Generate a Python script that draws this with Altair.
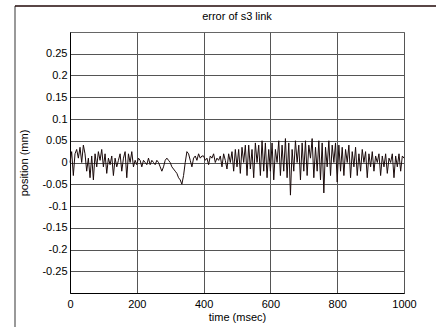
import altair as alt
import pandas as pd

title_text = "error of s3 link"
x_label = "time (msec)"
y_label = "position (mm)"

time_step = 5
error_mm = [
    0.0, 0.025, -0.03, 0.02, 0.03, 0.01, 0.035, 0.0, 0.04, 0.02,
    -0.02, 0.01, -0.035, 0.015, -0.04, 0.02, -0.01, 0.025, 0.005, 0.03,
    -0.01, 0.02, -0.025, 0.01, -0.005, 0.015, -0.03, 0.01, -0.01, 0.005,
    0.02, -0.02, 0.01, 0.025, -0.035, 0.02, 0.0, 0.025, -0.01, 0.005,
    -0.005, 0.01, 0.005, -0.01, 0.005, 0.0, -0.005, 0.01, -0.005, 0.005,
    0.0, -0.005, 0.005, 0.0, -0.01, -0.02, -0.01, 0.005, 0.01, 0.005,
    0.0, -0.01, -0.015, -0.02, -0.025, -0.035, -0.04, -0.05, -0.03, 0.0,
    0.025, 0.02, 0.005, -0.01, 0.01, 0.015, 0.005, 0.02, 0.01, 0.015,
    0.015, 0.005, 0.01, -0.005, 0.015, 0.01, 0.02, 0.0, 0.01, 0.005,
    0.015, -0.01, 0.02, 0.005, -0.015, 0.02, 0.0, 0.025, -0.02, 0.03,
    -0.01, 0.03, -0.025, 0.035, 0.0, 0.04, -0.03, 0.04, -0.015, 0.03,
    -0.035, 0.045, 0.0, 0.04, -0.03, 0.05, -0.02, 0.045, -0.035, 0.03,
    -0.02, 0.045, -0.04, 0.03, 0.0, 0.05, -0.03, 0.04, -0.02, 0.055,
    -0.035, 0.045, -0.075, 0.03, -0.02, 0.05, 0.0, 0.04, -0.04, 0.045,
    -0.02, 0.05, -0.03, 0.04, 0.01, 0.055, -0.035, 0.035, -0.02, 0.05,
    -0.04, 0.045, -0.07, 0.035, -0.01, 0.05, -0.03, 0.04, 0.0, 0.045,
    -0.045, 0.04, -0.02, 0.035, -0.03, 0.03, 0.0, 0.04, -0.035, 0.025,
    -0.01, 0.035, -0.03, 0.02, -0.02, 0.03, 0.0, 0.025, -0.035, 0.02,
    -0.01, 0.025, -0.02, 0.015, 0.0, 0.02, -0.03, 0.015, -0.01, 0.02,
    -0.025, 0.01, 0.0, 0.02, -0.035, 0.015, -0.01, 0.02, -0.02, 0.015,
    0.01,
]
time_ms = [i * time_step for i in range(len(error_mm))]

x_ticks = [0, 200, 400, 600, 800, 1000]
y_ticks = [-0.25, -0.2, -0.15, -0.1, -0.05, 0, 0.05, 0.1, 0.15, 0.2, 0.25]

df = pd.DataFrame({"t": time_ms, "e": error_mm})

FONT = "Liberation Sans"

line = alt.Chart(df).mark_line(color="#1a0a0a", strokeWidth=1).encode(
    x=alt.X("t:Q", scale=alt.Scale(domain=[0, 1000], nice=False),
            axis=alt.Axis(values=x_ticks, title=x_label, grid=True, format="d",
                          gridColor="#555555", gridOpacity=1, gridWidth=1,
                          domainColor="#000000", tickSize=0, labelPadding=5,
                          labelFontSize=11, titleFontSize=11, titleFontWeight="normal",
                          labelColor="#000000", titleColor="#000000",
                          labelFont=FONT, titleFont=FONT, titlePadding=2,
                          labelFlush=False)),
    y=alt.Y("e:Q", scale=alt.Scale(domain=[-0.3, 0.3], nice=False),
            axis=alt.Axis(values=y_ticks, title=y_label, grid=True,
                          gridColor="#555555", gridOpacity=1, gridWidth=1,
                          domainColor="#000000", tickSize=0, labelPadding=3,
                          labelFontSize=11, titleFontSize=11, titleFontWeight="normal",
                          labelColor="#000000", titleColor="#000000",
                          labelFont=FONT, titleFont=FONT, titlePadding=12,
                          labelExpr="datum.value < 0 ? '-' + format(-datum.value, '.2~f') : format(datum.value, '.2~f')")),
)

frame_left = alt.Chart(pd.DataFrame({"a": [0]})).mark_rule(color="#777777", strokeWidth=1.5).encode(
    x=alt.value(-55), y=alt.value(-26), y2=alt.value(295)
)
frame_top = alt.Chart(pd.DataFrame({"a": [0]})).mark_rule(color="#220808", strokeWidth=1.5).encode(
    x=alt.value(-55), x2=alt.value(366), y=alt.value(-26)
)
title_mark = alt.Chart(pd.DataFrame({"label": [title_text]})).mark_text(
    font=FONT, fontSize=11, color="#000000", align="center", baseline="middle"
).encode(text="label:N", x=alt.value(167), y=alt.value(-15))

chart = alt.layer(line, frame_left, frame_top, title_mark).properties(
    width=334, height=261,
    padding={"left": 70, "top": 32, "right": 32, "bottom": 34},
    autosize=alt.AutoSizeParams(type="none"),
    background="white",
).configure_view(stroke="#666666", strokeWidth=1)

chart.save("out.html", embed_options={"renderer": "svg", "actions": False})
